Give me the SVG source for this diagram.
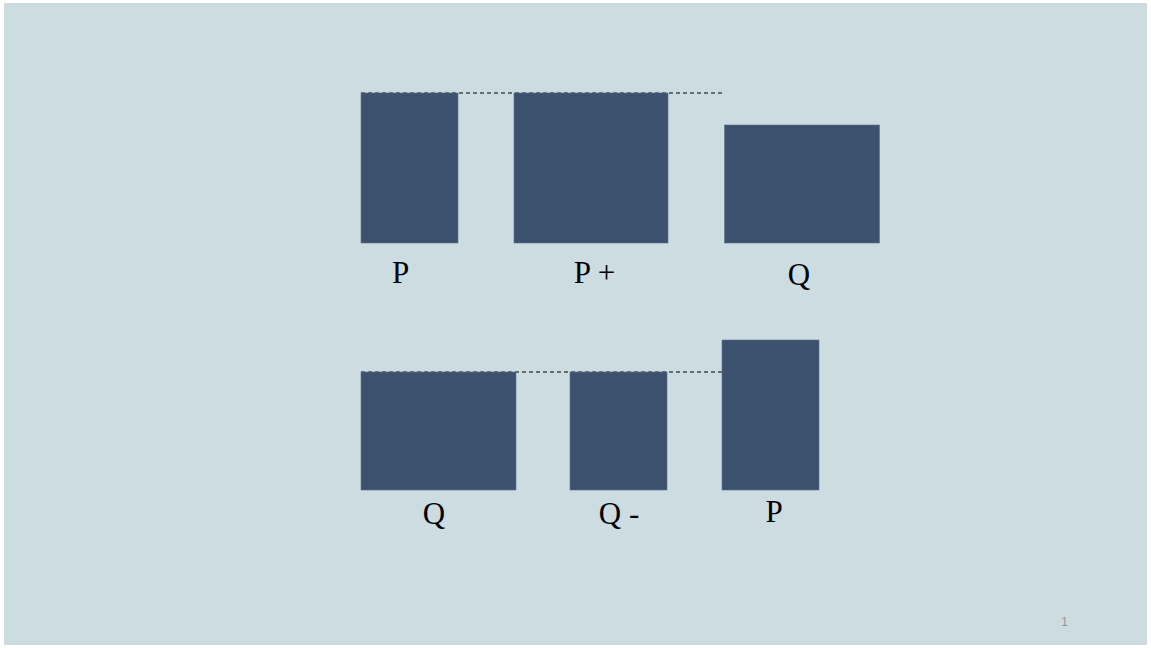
<svg xmlns="http://www.w3.org/2000/svg" width="1151" height="648" viewBox="0 0 1151 648">
<style>
.box{fill:#3b516e;stroke:#5d7391;stroke-width:0.6}
.lbl{font-family:'Liberation Serif','DejaVu Serif','Times New Roman',serif;font-size:31px;fill:#000}
.dash{stroke:#000;stroke-width:1;stroke-dasharray:4,3;fill:none}
</style>
<rect x="0" y="0" width="1151" height="648" fill="#ffffff"/>
<rect x="4" y="3" width="1143" height="642" fill="#cddce0"/>
<g id="connectors">
<line class="dash" x1="361" y1="93" x2="723" y2="93"/>
<line class="dash" x1="361" y1="372" x2="726" y2="372"/>
</g>
<g id="top-P"><rect class="box" x="361" y="93" width="97" height="150"/><text class="lbl" x="400.5" y="283" text-anchor="middle">P</text></g>
<g id="top-Pplus"><rect class="box" x="514" y="93" width="154" height="150"/><text class="lbl" x="594.5" y="283" text-anchor="middle">P +</text></g>
<g id="top-Q"><rect class="box" x="724.5" y="125" width="155" height="118"/><text class="lbl" x="799" y="285" text-anchor="middle">Q</text></g>
<g id="bot-Q"><rect class="box" x="361" y="372" width="155" height="118"/><text class="lbl" x="434" y="524" text-anchor="middle">Q</text></g>
<g id="bot-Qminus"><rect class="box" x="570" y="372" width="97" height="118"/><text class="lbl" x="619" y="524" text-anchor="middle">Q -</text></g>
<g id="bot-P"><rect class="box" x="722" y="340" width="97" height="150"/><text class="lbl" x="774" y="522" text-anchor="middle">P</text></g>
<text x="1064.5" y="626" font-family="'Liberation Sans', Arial, sans-serif" font-size="12" fill="#8c9a9e" text-anchor="middle">1</text>
</svg>
